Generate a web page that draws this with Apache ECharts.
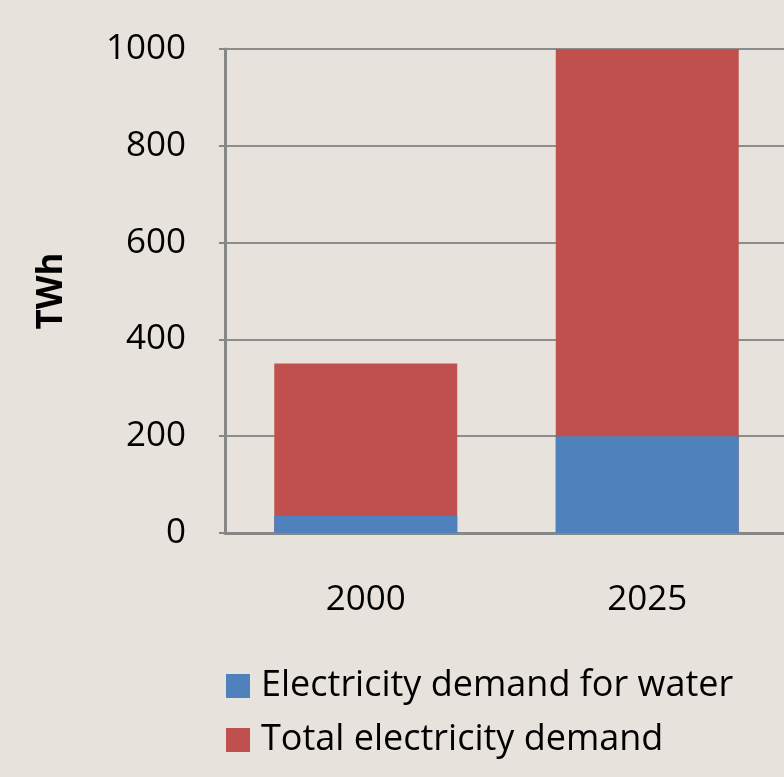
<!DOCTYPE html>
<html>
<head>
<meta charset="utf-8">
<script src="https://cdn.jsdelivr.net/npm/echarts@6/dist/echarts.min.js"></script>
<style>
html,body{margin:0;padding:0;background:#e7e3dc;}
#c{width:784px;height:777px;}
</style>
</head>
<body>
<div id="c"></div>
<script>
const categories = ['2000', '2025'];
const waterDemand = [35, 200];
const totalDemand = [350, 1000];
const yTicks = [0, 200, 400, 600, 800, 1000];
const seriesNames = ['Electricity demand for water', 'Total electricity demand'];

const FONT = 'Open Sans';
const chart = echarts.init(document.getElementById('c'), null, {renderer: 'canvas'});
chart.setOption({
  backgroundColor: '#e7e3dc',
  animation: false,
  textStyle: {fontFamily: FONT},
  grid: {left: 225, width: 563, top: 49, bottom: 244, containLabel: false, outerBoundsMode: 'none'},
  legend: {
    data: seriesNames,
    orient: 'vertical',
    left: 226, top: 668, padding: 0,
    itemWidth: 24, itemHeight: 24, itemGap: 18,
    icon: 'rect',
    textStyle: {fontFamily: FONT, fontSize: 36, color: '#000', padding: [0, 0, 0, 6]}
  },
  xAxis: {
    type: 'category',
    data: categories,
    axisLine: {lineStyle: {color: '#878787', width: 3}},
    axisTick: {show: false},
    axisLabel: {color: '#000', fontSize: 35, margin: 50, fontFamily: FONT},
    splitLine: {show: false}
  },
  yAxis: {
    type: 'value',
    min: yTicks[0], max: yTicks[yTicks.length - 1], interval: 200,
    name: 'TWh',
    nameLocation: 'middle',
    nameGap: 155,
    nameRotate: 90,
    nameTextStyle: {fontSize: 35, fontWeight: 'bold', color: '#000', fontFamily: FONT},
    axisLine: {show: true, lineStyle: {color: '#878787', width: 3}},
    axisTick: {show: true, length: 6, lineStyle: {color: '#878787', width: 2}},
    axisLabel: {color: '#000', fontSize: 35, margin: 39, fontFamily: FONT, formatter: v => String(v)},
    splitLine: {show: true, lineStyle: {color: '#8c8c8c', width: 2}}
  },
  series: [
    {
      name: seriesNames[1], type: 'bar', data: totalDemand,
      barWidth: '65%', barGap: '-100%',
      itemStyle: {color: '#c0504d'}, z: 2
    },
    {
      name: seriesNames[0], type: 'bar', data: waterDemand,
      barWidth: '65%', barGap: '-100%',
      itemStyle: {color: '#4f81bd'}, z: 3
    }
  ]
});
</script>
</body>
</html>
